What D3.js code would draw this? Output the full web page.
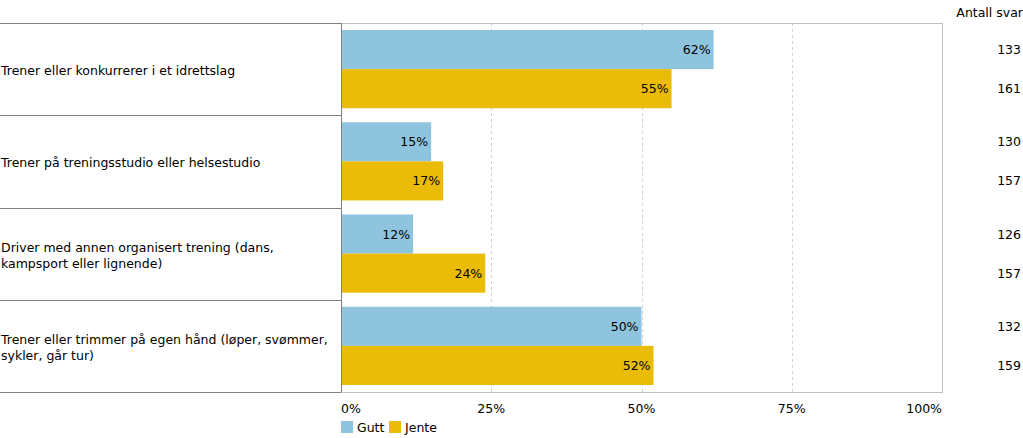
<!DOCTYPE html>
<html>
<head>
<meta charset="utf-8">
<script src="https://cdn.jsdelivr.net/npm/d3@7"></script>
<style>
  body { margin: 0; background: #fff; }
  text { font-family: "DejaVu Sans", Verdana, sans-serif; font-size: 12.5px; fill: #000; }
</style>
</head>
<body>
<div id="chart"></div>
<script>
var categories = [
    ["Trener eller konkurrerer i et idrettslag"],
    ["Trener på treningsstudio eller helsestudio"],
    ["Driver med annen organisert trening (dans,", "kampsport eller lignende)"],
    ["Trener eller trimmer på egen hånd (løper, svømmer,", "sykler, går tur)"]
];
var series = ["Gutt", "Jente"];
var gutt = [62, 15, 12, 50];
var jente = [55, 17, 24, 52];
var guttN = [133, 130, 126, 132];
var jenteN = [161, 157, 157, 159];
var ticks = [0, 25, 50, 75, 100];
var colors = ["#8fc4df", "#eabc08"];

var width = 1023, height = 438;
var plotLeft = 341, plotRight = 942, plotTop = 23, plotBottom = 392;

var svg = d3.select("#chart").append("svg")
    .attr("width", width)
    .attr("height", height);

var x = d3.scaleLinear().domain([0, 100]).range([plotLeft, plotRight]);
var y = d3.scaleBand().domain(d3.range(categories.length)).range([plotTop, plotBottom]);
var sub = d3.scaleBand().domain([0, 1]).range([0, y.bandwidth()]).paddingOuter(0.18);

// plot frame
svg.append("rect")
    .attr("x", plotLeft + 0.5).attr("y", plotTop + 0.5)
    .attr("width", plotRight - plotLeft).attr("height", plotBottom - plotTop)
    .attr("fill", "none").attr("stroke", "#c0c0c0");

// gridlines
svg.selectAll(".grid")
    .data(ticks.slice(1, -1))
    .enter().append("line")
    .attr("x1", d => Math.round(x(d)) + 0.5).attr("x2", d => Math.round(x(d)) + 0.5)
    .attr("y1", plotTop).attr("y2", plotBottom)
    .attr("stroke", "#d0d0d0")
    .attr("stroke-dasharray", "3,3");

// left table lines
svg.selectAll(".row")
    .data(d3.range(categories.length + 1))
    .enter().append("line")
    .attr("x1", 0).attr("x2", plotLeft)
    .attr("y1", d => Math.round(plotTop + d * y.step()) + 0.5)
    .attr("y2", d => Math.round(plotTop + d * y.step()) + 0.5)
    .attr("stroke", "#808080");
svg.append("line")
    .attr("x1", plotLeft + 0.5).attr("x2", plotLeft + 0.5)
    .attr("y1", plotTop).attr("y2", plotBottom)
    .attr("stroke", "#808080");

// category labels
categories.forEach(function(lines, i) {
    var cy = y(i) + y.bandwidth() / 2 + 1;
    var t = svg.append("text").attr("x", 1)
        .attr("y", cy - (lines.length - 1) * 8)
        .attr("dominant-baseline", "central");
    lines.forEach(function(l, j) {
        t.append("tspan").attr("x", 1).attr("dy", j === 0 ? 0 : 16).text(l);
    });
});

// bars
[gutt, jente].forEach(function(vals, s) {
    var counts = s === 0 ? guttN : jenteN;
    var g = svg.append("g");
    g.selectAll("rect")
        .data(vals)
        .enter().append("rect")
        .attr("x", x(0) + 1)
        .attr("y", (d, i) => y(i) + sub(s))
        .attr("width", d => x(d) - x(0) - 1)
        .attr("height", sub.bandwidth())
        .attr("fill", colors[s]);
    g.selectAll(".val")
        .data(vals)
        .enter().append("text")
        .attr("x", d => x(d) - 3)
        .attr("y", (d, i) => y(i) + sub(s) + sub.bandwidth() / 2)
        .attr("text-anchor", "end")
        .attr("dominant-baseline", "central")
        .text(d => d + "%");
    g.selectAll(".n")
        .data(counts)
        .enter().append("text")
        .attr("x", 1021)
        .attr("y", (d, i) => y(i) + sub(s) + sub.bandwidth() / 2)
        .attr("text-anchor", "end")
        .attr("dominant-baseline", "central")
        .text(d => d);
});

svg.append("text")
    .attr("x", 1023).attr("y", 12)
    .attr("text-anchor", "end")
    .attr("dominant-baseline", "central")
    .text("Antall svar");

// x axis labels
svg.selectAll(".tick")
    .data(ticks)
    .enter().append("text")
    .attr("x", d => x(d))
    .attr("y", 408)
    .attr("dominant-baseline", "central")
    .attr("text-anchor", (d, i) => i === 0 ? "start" : (i === ticks.length - 1 ? "end" : "middle"))
    .text(d => d + "%");

// legend
var lx = [341, 389];
series.forEach(function(name, i) {
    svg.append("rect")
        .attr("x", lx[i]).attr("y", 421)
        .attr("width", 12).attr("height", 12)
        .attr("fill", colors[i]);
    svg.append("text")
        .attr("x", lx[i] + 16).attr("y", 427)
        .attr("dominant-baseline", "central")
        .text(name);
});
</script>
</body>
</html>
